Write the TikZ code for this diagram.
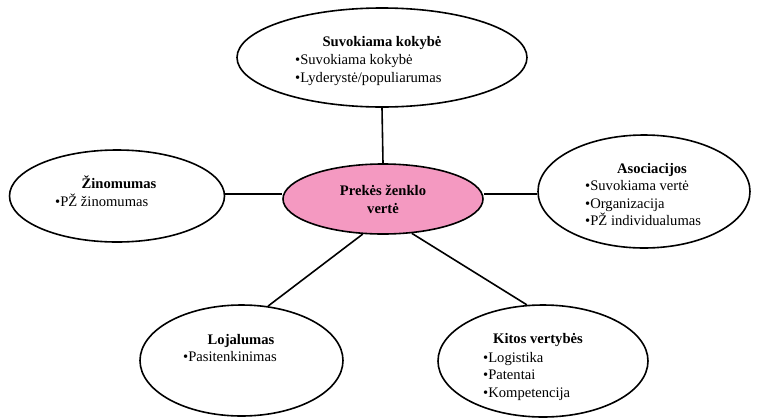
\documentclass[tikz,border=0pt]{standalone}
\usepackage{fontspec}
\setmainfont{Liberation Serif}
\usetikzlibrary{shapes.geometric}
\definecolor{brandpink}{RGB}{244,153,193}
\tikzset{
  bubble/.style={ellipse, draw=black, line width=1.6pt, fill=white, inner sep=0pt},
  link/.style={draw=black, line width=1.6pt},
  title/.style={font=\fontsize{14.6}{17.5}\selectfont\bfseries, inner sep=0pt, anchor=base},
  item/.style={font=\fontsize{14.6}{17.5}\selectfont, inner sep=0pt, anchor=base west},
}
\begin{document}
\begin{tikzpicture}[x=1pt,y=-1pt]
\useasboundingbox (0,0) rectangle (757,418);

% ellipses
\node[bubble, minimum width=290pt, minimum height=99pt] (top) at (382,57.5) {};
\node[bubble, minimum width=215pt, minimum height=92pt] (left) at (117,196) {};
\node[bubble, minimum width=212pt, minimum height=113pt] (right) at (644,191.5) {};
\node[bubble, minimum width=203pt, minimum height=111pt] (lowl) at (241.5,360.5) {};
\node[bubble, minimum width=210pt, minimum height=112pt] (lowr) at (543,361) {};
\node[bubble, fill=brandpink, minimum width=200pt, minimum height=70pt] (hub) at (383,199) {};

% connectors
\draw[link] (top.south) -- (hub.north);
\draw[link] (left.east |- 0,194) -- (hub.west |- 0,194);
\draw[link] (hub.east |- 0,194) -- (right.west |- 0,194);
\draw[link] (hub.240) -- (lowl.64);
\draw[link] (hub.310) -- (lowr.106);

% texts: top
\node[title] (tT) at (382,46) {Suvokiama kokybė};
\node[item] (t1) at (295,64) {•Suvokiama kokybė};
\node[item] (t2) at (295,82) {•Lyderystė/populiarumas};
% left
\node[title] (lT) at (119,188) {Žinomumas};
\node[item] (l1) at (55,206) {•PŽ žinomumas};
% hub
\node[title] (h1) at (383,195) {Prekės ženklo};
\node[title] (h2) at (383,213) {vertė};
% right
\node[title] (rT) at (652,173) {Asociacijos};
\node[item] (r1) at (585,190.5) {•Suvokiama vertė};
\node[item] (r2) at (585,208) {•Organizacija};
\node[item] (r3) at (585,225.5) {•PŽ individualumas};
% lower left
\node[title] (aT) at (241,344) {Lojalumas};
\node[item] (a1) at (183,361) {•Pasitenkinimas};
% lower right
\node[title] (bT) at (538,343) {Kitos vertybės};
\node[item] (b1) at (483,362) {•Logistika};
\node[item] (b2) at (483,379.5) {•Patentai};
\node[item] (b3) at (483,397) {•Kompetencija};
\end{tikzpicture}
\end{document}
